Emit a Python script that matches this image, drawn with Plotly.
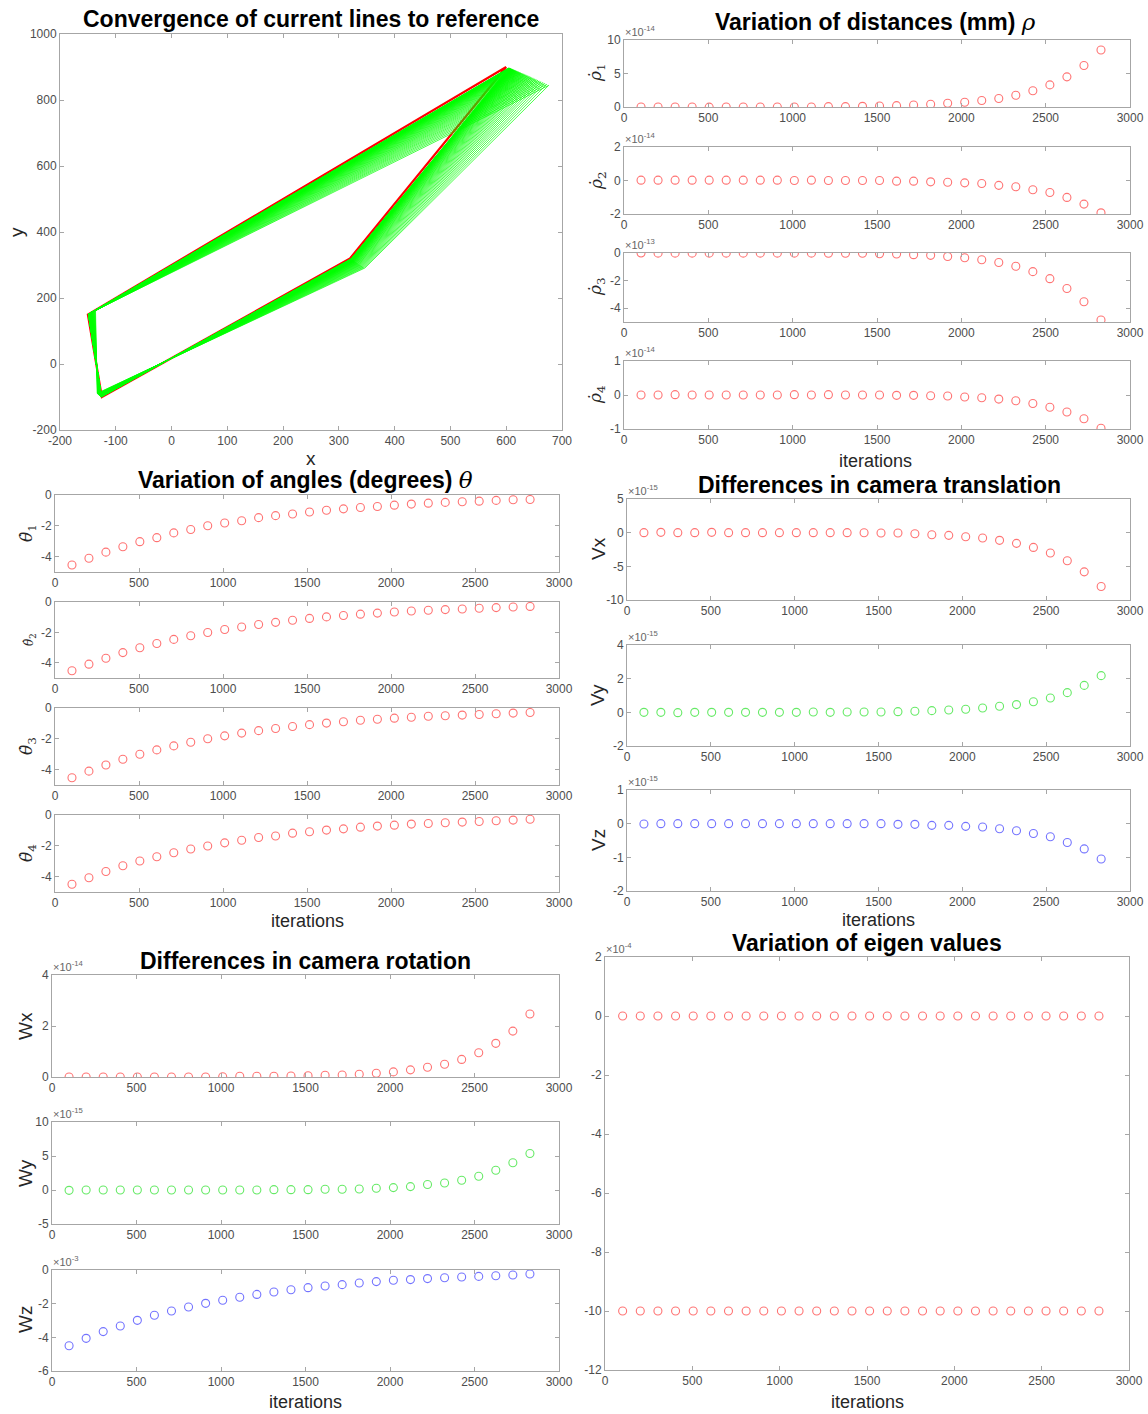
import plotly.graph_objects as go
import numpy as np

W, H = 1148, 1414

# ---------------- data ----------------
iters = [101, 202, 303, 404, 505, 606, 707, 808, 909, 1010, 1111, 1212, 1313, 1414,
         1515, 1616, 1717, 1818, 1919, 2020, 2121, 2222, 2323, 2424, 2525, 2626, 2727, 2828]

# reference quadrilateral (image plane)
ref_x = [600, -150, -125, 320, 600]
ref_y = [900, 150, -100, 320, 900]
# rotation error (degrees) of the current lines at each drawn iteration
green_angles = [-5.00, -4.75, -4.51, -4.29, -4.07, -3.87, -3.68, -3.49, -3.32, -3.15,
                -2.99, -2.84, -2.70, -2.57, -2.44, -2.32, -2.20, -2.09, -1.99, -1.89,
                -1.79, -1.70, -1.62, -1.54, -1.46, -1.39, -1.32, -1.25, -1.19, -1.13,
                -1.07, -1.02, -0.97, -0.92, -0.88, -0.83, -0.79, -0.75, -0.71, -0.68,
                -0.65, -0.61, -0.58, -0.55, -0.53, -0.50, -0.48, -0.45, -0.43, -0.41,
                -0.39, -0.37, -0.35, -0.33, -0.32, -0.30, -0.29]

# rho dot (mantissas)
rho1_e14 = [0.0, 0.0, 0.0, 0.0, -0.02, 0.0, 0.0, 0.0, 0.0, 0.0, 0.0, 0.05, 0.05, 0.1,
            0.15, 0.2, 0.3, 0.4, 0.55, 0.7, 0.97, 1.26, 1.75, 2.43, 3.3, 4.5, 6.2, 8.5]
rho2_e14 = [0.02, 0.02, 0.02, 0.02, 0.02, 0.02, 0.02, 0.02, 0.02, 0.0, 0.02, 0.0, 0.0, 0.0,
            0.0, -0.04, -0.04, -0.08, -0.1, -0.14, -0.18, -0.29, -0.37, -0.55, -0.72, -1.01, -1.41, -1.93]
rho3_e13 = [0.0, -0.01, -0.01, -0.01, -0.01, -0.01, -0.01, -0.01, -0.01, -0.01, -0.01, -0.02, -0.02, -0.02,
            -0.05, -0.07, -0.12, -0.17, -0.25, -0.34, -0.49, -0.69, -0.96, -1.35, -1.86, -2.57, -3.53, -4.85]
rho4_e14 = [0.0, 0.0, 0.01, 0.0, 0.0, 0.0, 0.0, 0.0, 0.0, 0.01, 0.0, 0.01, 0.0, 0.0,
            0.0, -0.01, -0.01, -0.02, -0.03, -0.06, -0.08, -0.12, -0.17, -0.25, -0.36, -0.5, -0.7, -0.98]

# theta dot (degrees)
theta1 = [-4.55, -4.11, -3.71, -3.36, -3.03, -2.77, -2.46, -2.24, -2.00, -1.82, -1.67, -1.47, -1.34, -1.23,
          -1.10, -0.99, -0.90, -0.81, -0.75, -0.66, -0.59, -0.53, -0.48, -0.44, -0.40, -0.35, -0.31, -0.29]
theta2 = [-4.52, -4.09, -3.70, -3.33, -3.01, -2.73, -2.46, -2.22, -2.01, -1.81, -1.64, -1.48, -1.34, -1.20,
          -1.08, -0.98, -0.89, -0.80, -0.73, -0.66, -0.59, -0.54, -0.50, -0.46, -0.41, -0.37, -0.33, -0.29]
theta3 = [-4.53, -4.10, -3.70, -3.33, -3.00, -2.72, -2.46, -2.22, -2.00, -1.81, -1.63, -1.47, -1.33, -1.20,
          -1.08, -0.98, -0.89, -0.80, -0.73, -0.66, -0.60, -0.54, -0.50, -0.46, -0.42, -0.37, -0.33, -0.29]
theta4 = [-4.50, -4.07, -3.67, -3.30, -2.99, -2.71, -2.45, -2.21, -2.01, -1.81, -1.64, -1.46, -1.36, -1.18,
          -1.09, -0.98, -0.90, -0.79, -0.72, -0.66, -0.59, -0.55, -0.50, -0.46, -0.42, -0.37, -0.33, -0.28]

# camera translation differences (mantissas x1e-15)
vx_e15 = [0.0, 0.05, 0.0, 0.0, 0.05, 0.0, 0.0, 0.0, 0.0, 0.0, 0.0, 0.0, 0.0, -0.02,
          -0.05, -0.05, -0.15, -0.3, -0.4, -0.6, -0.8, -1.14, -1.59, -2.19, -3.03, -4.18, -5.82, -8.0]
vy_e15 = [0.0, 0.0, -0.02, 0.0, 0.0, 0.0, 0.0, 0.0, 0.0, 0.0, 0.02, 0.0, 0.02, 0.02,
          0.02, 0.04, 0.06, 0.1, 0.14, 0.18, 0.26, 0.36, 0.46, 0.63, 0.85, 1.17, 1.6, 2.18]
vz_e15 = [-0.01, 0.0, 0.0, 0.0, 0.0, 0.0, 0.0, 0.0, 0.0, 0.0, 0.0, 0.0, 0.0, 0.0,
          0.0, -0.02, -0.02, -0.05, -0.05, -0.08, -0.1, -0.15, -0.21, -0.29, -0.39, -0.56, -0.75, -1.05]

# camera rotation differences
wx_e14 = [0.0, 0.0, 0.0, 0.0, 0.0, 0.0, 0.0, 0.0, 0.0, 0.01, 0.03, 0.03, 0.03, 0.04,
          0.05, 0.07, 0.08, 0.11, 0.15, 0.2, 0.28, 0.38, 0.50, 0.69, 0.95, 1.32, 1.8, 2.47]
wy_e15 = [-0.05, 0.0, 0.0, 0.0, 0.0, 0.0, 0.0, 0.0, 0.0, 0.0, 0.0, 0.0, 0.05, 0.05,
          0.05, 0.1, 0.1, 0.15, 0.25, 0.35, 0.5, 0.8, 1.03, 1.43, 2.02, 2.9, 4.0, 5.37]
wz_e3 = [-4.50, -4.06, -3.66, -3.33, -2.99, -2.69, -2.44, -2.20, -1.98, -1.80, -1.62, -1.45, -1.31, -1.17,
         -1.05, -0.95, -0.87, -0.77, -0.69, -0.61, -0.57, -0.51, -0.46, -0.42, -0.38, -0.34, -0.30, -0.24]

# eigen values (x1e-4)
eig1_e4 = [0.0, 0.0, 0.0, 0.0, 0.0, 0.0, 0.0, 0.0, 0.0, 0.0, 0.0, 0.0, 0.0, 0.0,
           0.0, 0.0, 0.0, 0.0, 0.0, 0.0, 0.0, 0.0, 0.0, 0.0, 0.0, 0.0, 0.0, 0.0]
eig2_e4 = [-10.0, -10.0, -10.0, -10.0, -10.0, -10.0, -10.0, -10.0, -10.0, -10.0, -10.0, -10.0, -10.0, -10.0,
           -10.0, -10.0, -10.0, -10.0, -10.0, -10.0, -10.0, -10.0, -10.0, -10.0, -10.0, -10.0, -10.0, -10.0]

# ---------------- styling ----------------
RED = 'rgba(255,0,0,0.55)'
GREEN = 'rgba(0,220,0,0.6)'
BLUE = 'rgba(0,0,255,0.55)'
TICKC = '#4d4d4d'
AXC = '#a6a6a6'
SANS = 'Liberation Sans'
SERIF = 'DejaVu Serif'


def dx(px):
    return px / W


def dy(py):
    return 1 - py / H


# panels: (name, x0, x1, ytop, ybot, xrange, xticks, yrange, yticks)
it_ticks = [0, 500, 1000, 1500, 2000, 2500, 3000]
panels = [
    ('lines', 60, 562, 34, 430, [-200, 700], list(range(-200, 701, 100)), [-200, 1000], list(range(-200, 1001, 200))),
    ('rho1', 624, 1130, 40, 107, [0, 3000], it_ticks, [0, 10], [0, 5, 10]),
    ('rho2', 624, 1130, 147, 214, [0, 3000], it_ticks, [-2, 2], [-2, 0, 2]),
    ('rho3', 624, 1130, 253, 322, [0, 3000], it_ticks, [-5, 0], [-4, -2, 0]),
    ('rho4', 624, 1130, 361, 429, [0, 3000], it_ticks, [-1, 1], [-1, 0, 1]),
    ('th1', 55, 559, 495, 572, [0, 3000], it_ticks, [-5, 0], [-4, -2, 0]),
    ('th2', 55, 559, 602, 678, [0, 3000], it_ticks, [-5, 0], [-4, -2, 0]),
    ('th3', 55, 559, 708, 785, [0, 3000], it_ticks, [-5, 0], [-4, -2, 0]),
    ('th4', 55, 559, 815, 892, [0, 3000], it_ticks, [-5, 0], [-4, -2, 0]),
    ('vx', 627, 1130, 499, 600, [0, 3000], it_ticks, [-10, 5], [-10, -5, 0, 5]),
    ('vy', 627, 1130, 645, 746, [0, 3000], it_ticks, [-2, 4], [-2, 0, 2, 4]),
    ('vz', 627, 1130, 790, 891, [0, 3000], it_ticks, [-2, 1], [-2, -1, 0, 1]),
    ('wx', 52, 559, 975, 1077, [0, 3000], it_ticks, [0, 4], [0, 2, 4]),
    ('wy', 52, 559, 1122, 1224, [0, 3000], it_ticks, [-5, 10], [-5, 0, 5, 10]),
    ('wz', 52, 559, 1270, 1371, [0, 3000], it_ticks, [-6, 0], [-6, -4, -2, 0]),
    ('eig', 605, 1129, 957, 1370, [0, 3000], it_ticks, [-12, 2], list(range(-12, 3, 2))),
]

fig = go.Figure()
layout = dict(width=W, height=H, autosize=False,
              margin=dict(l=0, r=0, t=0, b=0, pad=0, autoexpand=False),
              paper_bgcolor='white', plot_bgcolor='white',
              showlegend=False)

axref = {}
for i, (name, x0, x1, yt, yb, xr, xt, yr, yt_) in enumerate(panels, start=1):
    sfx = '' if i == 1 else str(i)
    axref[name] = ('x' + sfx, 'y' + sfx)
    common = dict(showline=True, linecolor=AXC, linewidth=1, mirror='ticks',
                  ticks='inside', ticklen=4, tickcolor=AXC, showgrid=False,
                  zeroline=False, automargin=False,
                  tickfont=dict(family=SANS, size=12, color=TICKC))
    layout['xaxis' + sfx] = dict(common, domain=[dx(x0), dx(x1)], range=xr,
                                 tickvals=xt, ticktext=[str(v) for v in xt],
                                 anchor='y' + sfx)
    layout['yaxis' + sfx] = dict(common, domain=[dy(yb), dy(yt)], range=yr,
                                 tickvals=yt_, ticktext=[str(v) for v in yt_],
                                 anchor='x' + sfx)

# ---------- convergence lines ----------
fig.add_trace(go.Scatter(x=ref_x, y=ref_y, mode='lines',
                         line=dict(color='#ff0000', width=2.2),
                         xaxis=axref['lines'][0], yaxis=axref['lines'][1]))
rx = np.array(ref_x, dtype=float)
ry = np.array(ref_y, dtype=float)
gx, gy = [], []
for a in green_angles:
    t = np.deg2rad(a)
    c, s = np.cos(t), np.sin(t)
    gx += list(rx * c - ry * s) + [None]
    gy += list(rx * s + ry * c) + [None]
fig.add_trace(go.Scatter(x=gx, y=gy, mode='lines',
                         line=dict(color='#00ff00', width=0.7),
                         xaxis=axref['lines'][0], yaxis=axref['lines'][1]))


def scat(name, y, color):
    fig.add_trace(go.Scatter(x=iters, y=y, mode='markers',
                             marker=dict(symbol='circle-open', size=8, color=color,
                                         line=dict(width=1.1, color=color)),
                             xaxis=axref[name][0], yaxis=axref[name][1]))


scat('rho1', rho1_e14, RED)
scat('rho2', rho2_e14, RED)
scat('rho3', rho3_e13, RED)
scat('rho4', rho4_e14, RED)
scat('th1', theta1, RED)
scat('th2', theta2, RED)
scat('th3', theta3, RED)
scat('th4', theta4, RED)
scat('vx', vx_e15, RED)
scat('vy', vy_e15, GREEN)
scat('vz', vz_e15, BLUE)
scat('wx', wx_e14, RED)
scat('wy', wy_e15, GREEN)
scat('wz', wz_e3, BLUE)
scat('eig', eig1_e4, RED)
scat('eig', eig2_e4, RED)

ann = []


def text(x, y, s, size=19, color='#262626', family=SANS, angle=0, xanchor='center', yanchor='middle'):
    ann.append(dict(x=dx(x), y=dy(y), xref='paper', yref='paper', text=s, showarrow=False,
                    font=dict(family=family, size=size, color=color), textangle=angle,
                    xanchor=xanchor, yanchor=yanchor, borderpad=0))


GREEK = '<span style="font-family:DejaVu Serif;font-style:italic;font-weight:normal">%s</span>'
TS = 23
# titles
text(311, 19, '<b>Convergence of current lines to reference</b>', size=TS, color='black')
text(876, 22, '<b>Variation of distances (mm) </b>' + GREEK % 'ρ', size=TS, color='black')
text(306, 480, '<b>Variation of angles (degrees) </b>' + GREEK % 'θ', size=TS, color='black')
text(879, 485, '<b>Differences in camera translation</b>', size=TS, color='black')
text(305, 961, '<b>Differences in camera rotation</b>', size=TS, color='black')
text(867, 943, '<b>Variation of eigen values</b>', size=TS, color='black')

# axis titles
text(311, 459, 'x', size=19)
text(16, 232, 'y', size=19, angle=-90)
for (x, y) in [(876, 461), (307, 921), (878, 920), (305, 1402), (867, 1402)]:
    text(x, y, 'iterations', size=18)

for (x, y, lab, sz) in [(597, 73, '<i>ρ̇</i><sub>1</sub>', 17), (597, 181, '<i>ρ̇</i><sub>2</sub>', 17),
                        (597, 287, '<i>ρ̇</i><sub>3</sub>', 17), (597, 395, '<i>ρ̇</i><sub>4</sub>', 17),
                        (27, 533, '<i>θ̇</i><sub>1</sub>', 17), (30, 640, '<i>θ̇</i><sub>2</sub>', 12),
                        (27, 746, '<i>θ̇</i><sub>3</sub>', 17), (27, 853, '<i>θ̇</i><sub>4</sub>', 17)]:
    text(x, y, lab, size=sz, family=SERIF, angle=-90)

for (x, y, lab) in [(598, 549, 'Vx'), (598, 695, 'Vy'), (598, 840, 'Vz'),
                    (25, 1026, 'Wx'), (25, 1173, 'Wy'), (25, 1320, 'Wz')]:
    text(x, y, lab, size=19, angle=-90)

# exponent multipliers
for (x, y, e) in [(624, 39, '-14'), (624, 146, '-14'), (624, 252, '-13'), (624, 360, '-14'),
                  (627, 498, '-15'), (627, 644, '-15'), (627, 789, '-15'),
                  (52, 974, '-14'), (52, 1121, '-15'), (52, 1269, '-3'), (605, 956, '-4')]:
    text(x, y, '×10<sup>%s</sup>' % e, size=11, color='#666666', xanchor='left', yanchor='bottom')

layout['annotations'] = ann
fig.update_layout(**layout)
fig.write_html('out.html')
